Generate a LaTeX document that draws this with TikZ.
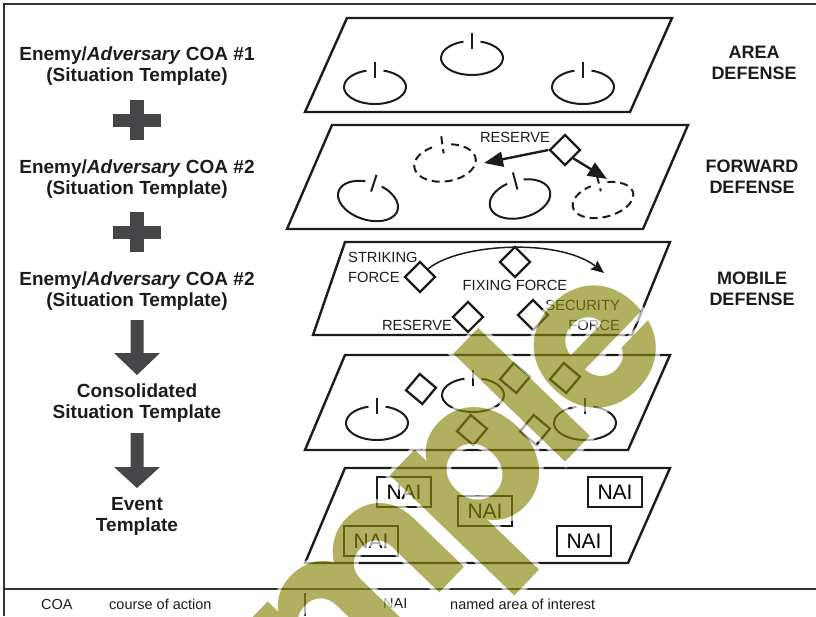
\documentclass[tikz,border=0pt]{standalone}
\usepackage{fontspec}
\setmainfont{Liberation Sans}
\newfontfamily\wmfill{Poppins}
\newfontfamily\wmhalo{Poppins}[BoldFeatures={FakeBold=4}]
\usetikzlibrary{shapes.geometric,arrows.meta}

\definecolor{ink}{RGB}{28,28,28}
\definecolor{slab}{RGB}{70,70,72}
\definecolor{olive}{RGB}{134,134,11}

\newcommand\wmk{\kern-11pt}

\tikzset{
  frameline/.style={draw=ink!90, line width=1.4pt},
  layer/.style={draw=ink, line width=2.4pt, line join=miter},
  iconline/.style={draw=ink, line width=2pt},
  dia/.style={draw=ink, diamond, minimum width=31pt, minimum height=31pt, inner sep=0pt, line width=2.3pt},
  nai/.style={draw=ink, line width=2.3pt, minimum width=54pt, minimum height=30pt, inner sep=0pt,
              font=\fontsize{21}{21}\selectfont},
  heading/.style={font=\bfseries\fontsize{19}{21}\selectfont, align=center, text=ink},
  side/.style={font=\bfseries\fontsize{18}{21}\selectfont, align=center, text=ink},
  small/.style={font=\fontsize{14.7}{20}\selectfont, text=ink, inner sep=0pt},
  legend/.style={font=\fontsize{14.5}{16}\selectfont, text=ink, inner sep=0pt, anchor=west},
  bigarrow/.style={draw=ink, line width=2.4pt, -{Triangle[length=19pt, width=15pt]}},
  thinarrow/.style={draw=ink, line width=1.5pt, -{Stealth[length=13pt, width=11pt, inset=2pt]}},
  slabfill/.style={fill=slab, draw=none},
  wmbase/.style={rotate=46, anchor=base west, inner sep=0pt},
  wmletter/.style={wmbase, text=olive, font=\wmfill\bfseries\fontsize{210}{210}\selectfont},
  wmhalo/.style={wmbase, text=white, font=\wmhalo\bfseries\fontsize{210}{210}\selectfont},
  power/.pic={
    \draw[iconline, pic actions] (286:31 and 17) arc[start angle=286, end angle=614, x radius=31, y radius=17];
    \draw[iconline, pic actions] (0,-25) -- (0,-9);
  }
}

\begin{document}
\begin{tikzpicture}[x=1pt, y=-1pt]
\useasboundingbox (0,0) rectangle (816,616);

% outer frame and legend rule
\draw[frameline] (4,616) -- (4,4) -- (816,4);
\draw[frameline] (4,589) -- (816,589);
\draw[frameline] (305,593) -- (305,616);

% left column: template chain
\node[heading] (coa1) at (137,66) {Enemy/\textit{Adversary} COA \#1\\(Situation Template)};
\node[heading] (coa2) at (137,179) {Enemy/\textit{Adversary} COA \#2\\(Situation Template)};
\node[heading] (coa3) at (137,291) {Enemy/\textit{Adversary} COA \#2\\(Situation Template)};
\node[heading] (cons) at (137,403) {Consolidated\\Situation Template};
\node[heading] (event) at (137,516) {Event\\Template};

% plus signs
\fill[slabfill] (113,114) rectangle (161,127);
\fill[slabfill] (130,100) rectangle (144,140);
\fill[slabfill] (113,226) rectangle (161,239);
\fill[slabfill] (130,212) rectangle (144,252);

% down arrows
\fill[slabfill] (130.5,320) -- (143.5,320) -- (143.5,353) -- (160,353) -- (137,375)
  -- (114,353) -- (130.5,353) -- cycle;
\fill[slabfill] (130.5,433) -- (143.5,433) -- (143.5,467) -- (160,467) -- (137,488)
  -- (114,467) -- (130.5,467) -- cycle;

% right column: defence types
\node[side] (area) at (754,63) {AREA\\DEFENSE};
\node[side] (fwd) at (752,177) {FORWARD\\DEFENSE};
\node[side] (mob) at (752,289) {MOBILE\\DEFENSE};

% layer 1: area defense
\draw[layer] (305,112) -- (630,112) -- (672,18) -- (347,18) -- cycle;
\pic at (375,87) {power};
\pic at (472,58) {power};
\pic at (583,87) {power};

% layer 2: forward defense
\draw[layer] (287,229) -- (643,229) -- (688,125) -- (332,125) -- cycle;
\pic[dashed, dash pattern=on 8pt off 5pt, rotate=8, yscale=1.08] at (445,163) {power};
\pic[rotate=-18, yscale=1.1] at (368,201) {power};
\pic[rotate=15, yscale=1.1] at (520,199) {power};
\pic[dashed, dash pattern=on 8pt off 5pt, rotate=14] at (603,200) {power};
\node[dia] (res2) at (565,150) {};
\node[small] (res2t) at (515,137) {RESERVE};
\coordinate (dashA) at (484,163);
\coordinate (dashD) at (607,179);
\draw[bigarrow] (res2.west) -- (dashA);
\draw[bigarrow] (res2.south east) -- (dashD);

% layer 3: mobile defense
\draw[layer] (313,335) -- (632,335) -- (670,242) -- (345,242) -- cycle;
\node[dia] (strike) at (420,277) {};
\node[dia] (fix) at (515,262) {};
\node[dia] (res3) at (468,317) {};
\node[dia] (sec) at (533,315) {};
\node[small, align=left, anchor=west] (striket) at (348,267) {STRIKING\\FORCE};
\node[small] (fixt) at (515,285) {FIXING FORCE};
\node[small, align=right, anchor=east] (sect) at (620,315) {SECURITY\\FORCE};
\node[small] (res3t) at (417,325) {RESERVE};
\coordinate (sweep) at (604,273);
\draw[thinarrow] (strike.north east) .. controls (460,243) and (560,238) .. (sweep);

% layer 4: consolidated template
\draw[layer] (305,450) -- (628,450) -- (670,355) -- (345,355) -- cycle;
\pic at (377,423) {power};
\pic at (473,395) {power};
\pic at (585,423) {power};
\node[dia, rotate=5] (c1) at (421,389) {};
\node[dia, rotate=5] (c2) at (515,378) {};
\node[dia, rotate=5] (c3) at (565,378) {};
\node[dia, rotate=5] (c4) at (472,430) {};
\node[dia, rotate=5] (c5) at (535,430) {};

% layer 5: event template
\draw[layer] (305,563) -- (628,563) -- (670,468) -- (345,468) -- cycle;
\node[nai] (n1) at (404,492) {NAI};
\node[nai] (n2) at (485,511) {NAI};
\node[nai] (n3) at (615,492) {NAI};
\node[nai] (n4) at (371,541) {NAI};
\node[nai] (n5) at (584,541) {NAI};

% legend
\node[legend] (k1) at (41,604) {COA};
\node[legend] (k1t) at (109,604) {course of action};
\node[legend] (k2) at (383,604) {NAI};
\node[legend] (k2t) at (450,604) {named area of interest};

% watermark: overlapping letters, each with a white halo, laid over as one translucent group
\coordinate (wmorigin) at (145,898);
\begin{scope}[transparency group, opacity=0.65]
\node[wmletter] (wmS) at (wmorigin) {S};
\node[wmhalo] at (wmorigin) {\phantom{S\wmk}a};
\node[wmletter] (wmA) at (wmorigin) {\phantom{S\wmk}a};
\node[wmhalo] at (wmorigin) {\phantom{S\wmk a\wmk}m};
\node[wmletter] (wmM) at (wmorigin) {\phantom{S\wmk a\wmk}m};
\node[wmhalo] at (wmorigin) {\phantom{S\wmk a\wmk m\wmk}p};
\node[wmletter] (wmP) at (wmorigin) {\phantom{S\wmk a\wmk m\wmk}p};
\node[wmhalo] at (wmorigin) {\phantom{S\wmk a\wmk m\wmk p\wmk}l};
\node[wmletter] (wmL) at (wmorigin) {\phantom{S\wmk a\wmk m\wmk p\wmk}l};
\node[wmhalo] at (wmorigin) {\phantom{S\wmk a\wmk m\wmk p\wmk l\wmk}e};
\node[wmletter] (wmE) at (wmorigin) {\phantom{S\wmk a\wmk m\wmk p\wmk l\wmk}e};
\end{scope}
\end{tikzpicture}
\end{document}
